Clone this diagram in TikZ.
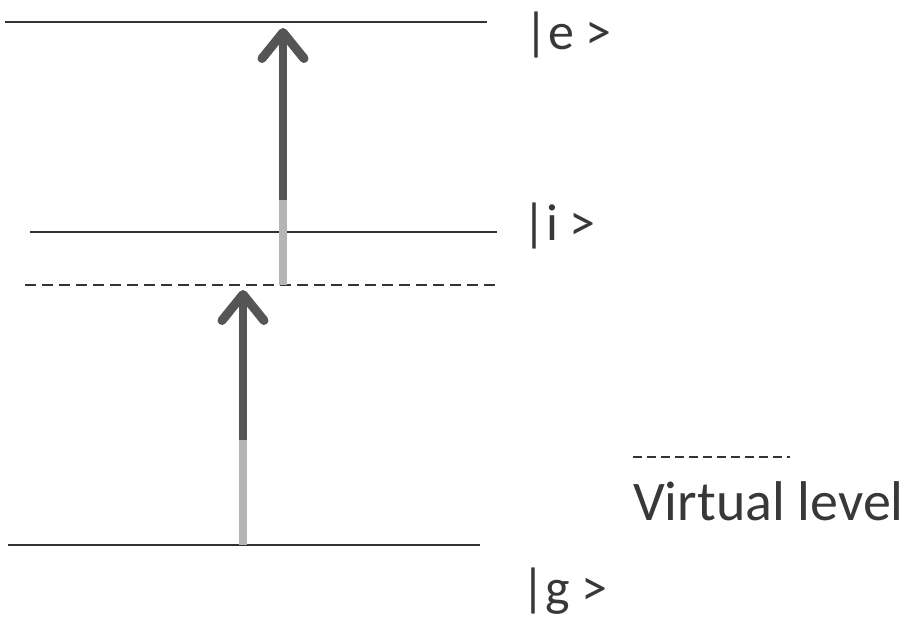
\documentclass[tikz,border=0pt]{standalone}
\usepackage{fontspec}
\setmainfont{Carlito}
\usetikzlibrary{arrows.meta}
\definecolor{lvl}{HTML}{333333}
\definecolor{arrdark}{HTML}{555555}
\definecolor{arrlight}{HTML}{B5B5B5}
\definecolor{txt}{HTML}{383838}
\tikzset{
  level/.style={draw=lvl, line width=1.8pt},
  virt/.style={draw=lvl, line width=1.5pt, dash pattern=on 11pt off 6pt},
  shaftlight/.style={draw=arrlight, line width=8pt},
  shaftdark/.style={draw=arrdark, line width=8pt,
    -{Straight Barb[length=26pt,width=42pt,line width=9pt,round]}},
  ket/.style={anchor=base west, inner sep=0pt, text=txt, font=\fontsize{52}{62}\selectfont},
  legend/.style={anchor=base west, inner sep=0pt, text=txt, font=\fontsize{56}{67}\selectfont}
}
\begin{document}
\begin{tikzpicture}[x=1pt,y=-1pt]
\useasboundingbox (0,0) rectangle (907,618);
% level endpoints
\coordinate (eL) at (5,22);   \coordinate (eR) at (487,22);
\coordinate (iL) at (30,232); \coordinate (iR) at (497,232);
\coordinate (vL) at (25,285); \coordinate (vR) at (500,285);
\coordinate (gL) at (8,545);  \coordinate (gR) at (480,545);
\draw[level] (eL) -- (eR);
\draw[level] (iL) -- (iR);
\draw[virt] (vL) -- (vR);
\draw[level] (gL) -- (gR);
% arrow 1: g -> virtual
\coordinate (a1b) at (243,545); \coordinate (a1m) at (243,440); \coordinate (a1t) at (243,290);
\draw[shaftlight] (a1b) -- (a1m);
\draw[shaftdark] (a1m) -- (a1t);
% arrow 2: virtual -> e
\coordinate (a2b) at (283,285); \coordinate (a2m) at (283,200); \coordinate (a2t) at (283,28);
\draw[shaftlight] (a2b) -- (a2m);
\draw[shaftdark] (a2m) -- (a2t);
% labels
\node[ket] (le) at (524,50) {|e >};
\node[ket] (li) at (522,240) {|i >};
\node[ket] (lg) at (521,605) {|g >};
% legend
\coordinate (dL) at (633,457); \coordinate (dR) at (790,457);
\draw[virt, line width=1.3pt, dash pattern=on 9pt off 5pt] (dL) -- (dR);
\node[legend] (lv) at (633,520) {Virtual level};
\end{tikzpicture}
\end{document}
